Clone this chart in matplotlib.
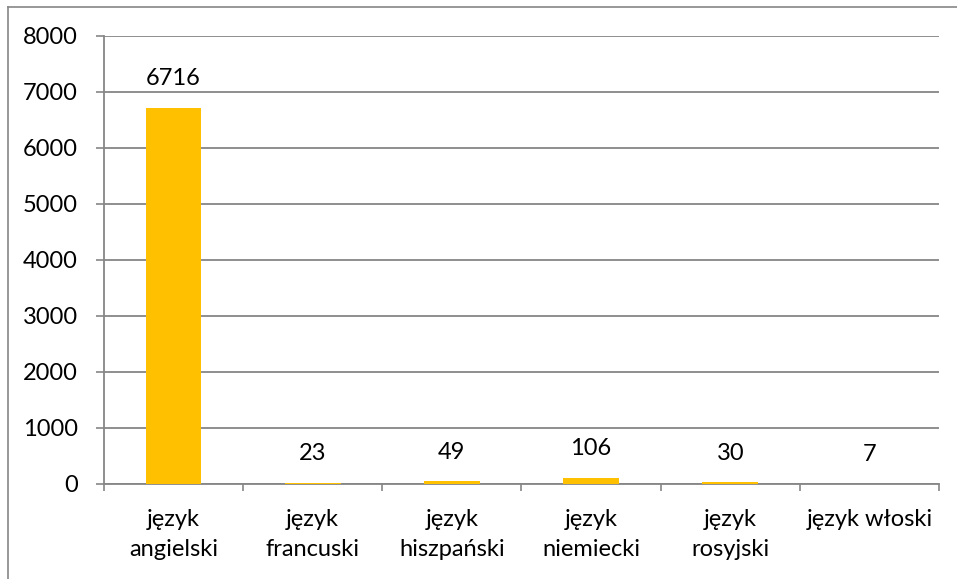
import matplotlib.pyplot as plt
from matplotlib.lines import Line2D

# data
categories = ["język\nangielski", "język\nfrancuski", "język\nhiszpański",
              "język\nniemiecki", "język\nrosyjski", "język włoski"]
values = [6716, 23, 49, 106, 30, 7]

plt.rcParams['font.family'] = ['Lato', 'DejaVu Sans']
fs = 17

fig = plt.figure(figsize=(9.57, 5.79), dpi=100)
ax = fig.add_axes([104 / 957, 95 / 579, 835 / 957, 448 / 579])

x = list(range(len(values)))
bars = ax.bar(x, values, width=0.4, color='#FFC000', zorder=5)

for xi, v in zip(x, values):
    ax.annotate(str(v), (xi, v), xytext=(0, 21), textcoords='offset points',
                ha='center', va='center', fontsize=fs, color='black')

ax.set_xlim(-0.5, len(values) - 0.5)
ax.set_ylim(0, 8000)
ax.set_yticks(range(0, 8001, 1000))
ax.tick_params(axis='y', labelsize=fs, length=5.8, color='#868686', width=1.2, pad=13)
ax.yaxis.grid(True, color='#868686', linewidth=1.3, zorder=0)

# category ticks at the boundaries, labels centred
ax.set_xticks([i + 0.5 for i in range(-1, len(values))])
ax.set_xticklabels([])
ax.set_xticks(x, minor=True)
ax.set_xticklabels(categories, minor=True, fontsize=fs, linespacing=1.5, va='top')
ax.tick_params(axis='x', which='major', length=5.2, color='#868686', width=1.2)
ax.tick_params(axis='x', which='minor', length=0, pad=18)

for s in ['top', 'right']:
    ax.spines[s].set_visible(False)
for s in ['left', 'bottom']:
    ax.spines[s].set_color('#868686')
    ax.spines[s].set_linewidth(1.3)
    ax.spines[s].set_zorder(4)

# chart border (left and top edges visible)
fig.add_artist(Line2D([8 / 957, 8 / 957], [0, 1 - 7 / 579], color='#868686', linewidth=1.2))
fig.add_artist(Line2D([8 / 957, 1], [1 - 7 / 579, 1 - 7 / 579], color='#868686', linewidth=1.2))

fig.savefig('out.png', dpi=100)
